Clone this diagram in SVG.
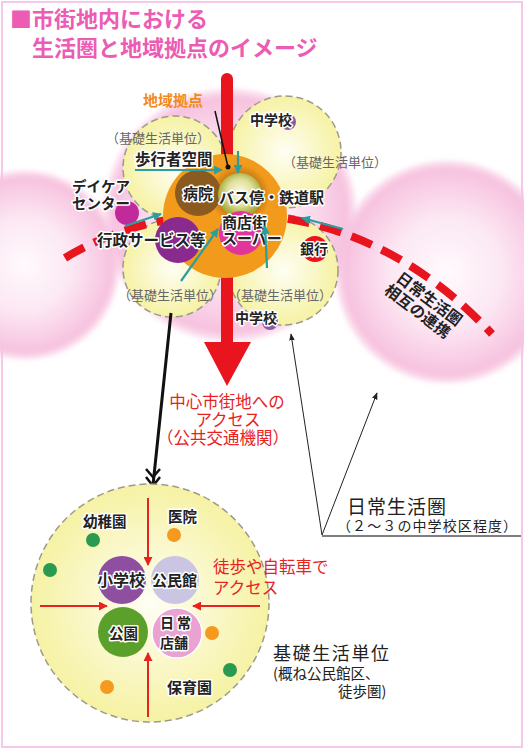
<svg xmlns="http://www.w3.org/2000/svg" width="524" height="749" viewBox="0 0 524 749">
<defs>
  <radialGradient id="pinkG" cx="50%" cy="50%" r="50%">
    <stop offset="0" stop-color="#fffafd"/>
    <stop offset="0.5" stop-color="#fce7f3"/>
    <stop offset="0.92" stop-color="#f7c2df"/>
    <stop offset="1" stop-color="#f7c2df" stop-opacity="0.3"/>
  </radialGradient>
  <radialGradient id="yelG" cx="50%" cy="50%" r="50%">
    <stop offset="0" stop-color="#fefef4"/>
    <stop offset="1" stop-color="#f6f2a4"/>
  </radialGradient>
  <radialGradient id="busG" cx="50%" cy="45%" r="50%">
    <stop offset="0" stop-color="#fbfbea"/>
    <stop offset="0.6" stop-color="#dfe09a"/>
    <stop offset="1" stop-color="#a9ab3c"/>
  </radialGradient>
  <radialGradient id="shadowG" cx="50%" cy="50%" r="50%">
    <stop offset="0.6" stop-color="#8a5210" stop-opacity="0.55"/>
    <stop offset="1" stop-color="#8a5210" stop-opacity="0"/>
  </radialGradient>
  <filter id="soft" x="-10%" y="-10%" width="120%" height="120%">
    <feGaussianBlur stdDeviation="2"/>
  </filter>
  <marker id="ta" viewBox="0 0 10 10" refX="9" refY="5" markerWidth="4" markerHeight="4" orient="auto" markerUnits="strokeWidth">
    <path d="M0,0 L10,5 L0,10 z" fill="#2a9ea0"/>
  </marker>
  <marker id="ra" viewBox="0 0 10 10" refX="9" refY="5" markerWidth="4.5" markerHeight="4.5" orient="auto" markerUnits="strokeWidth">
    <path d="M0,0 L10,5 L0,10 z" fill="#e8231f"/>
  </marker>
  <marker id="ka" viewBox="0 0 10 10" refX="9" refY="5" markerWidth="7" markerHeight="7" orient="auto" markerUnits="strokeWidth">
    <path d="M0,1 L10,5 L0,9 z" fill="#222"/>
  </marker>
</defs>
<style>
  text{font-family:"Noto Sans CJK JP","Noto Sans CJK SC",sans-serif}
  .title{fill:#ec5cb4;font-size:22px;font-weight:bold}
  .lab{font-weight:bold;fill:#222;stroke:#fff;stroke-width:3;stroke-linejoin:round;paint-order:stroke}
  .unit{fill:#666;font-size:13px}
  .yc{fill:url(#yelG);stroke:#9c9a8a;stroke-width:1.5;stroke-dasharray:7 4}
  .pk{fill:url(#pinkG);filter:url(#soft)}
  .teal{stroke:#2a9ea0;stroke-width:2.2;fill:none;marker-end:url(#ta)}
  .red{stroke:#e8231f;stroke-width:2;fill:none;marker-end:url(#ra)}
  .redt{fill:#e8231f;font-size:16.5px}
</style>

<rect x="2" y="2" width="520" height="745" fill="#fff" stroke="#f5c8ea" stroke-width="2"/>

<g id="title">
  <text class="title" x="10" y="27">■市街地内における</text>
  <text class="title" x="32" y="56">生活圏と地域拠点のイメージ</text>
</g>

<g id="daily-areas">
  <circle class="pk" cx="25" cy="265" r="95"/>
  <circle class="pk" cx="447" cy="272" r="112"/>
  <circle class="pk" cx="230" cy="215" r="127"/>
</g>

<g id="units">
  <circle class="yc" cx="175" cy="168" r="52"/>
  <circle class="yc" cx="285" cy="152" r="56"/>
  <circle class="yc" cx="172" cy="268" r="49"/>
  <circle class="yc" cx="283" cy="270" r="55"/>
</g>

<g id="connectors-back">
  <path d="M65,258 C150,205 340,170 492,334" fill="none" stroke="#e8141e" stroke-width="8" stroke-dasharray="22 11"/>
  <line x1="227" y1="79" x2="227" y2="346" stroke="#e8141e" stroke-width="12" stroke-linecap="round"/>
  <polygon points="204,342 251,342 227,386" fill="#e8141e"/>
</g>

<g id="hub">
  <circle cx="225" cy="216" r="62" fill="#f29a1c"/>
  <circle cx="240" cy="195" r="30" fill="url(#shadowG)"/>
</g>

<g id="hospital"><circle cx="198" cy="193" r="23" fill="#8b5a1e"/><text class="lab" x="183" y="199" font-size="15">病院</text></g>
<g id="bus"><circle cx="240" cy="195" r="22" fill="url(#busG)"/><text class="lab" x="219" y="203" font-size="15">バス停・鉄道駅</text></g>
<g id="shops"><circle cx="241" cy="233" r="22" fill="#e0369b"/><text class="lab" x="222" y="228" font-size="15">商店街</text><text class="lab" x="222" y="244" font-size="15">スーパー</text></g>
<g id="admin"><circle cx="178" cy="240" r="23" fill="#8b2a8e"/><text class="lab" x="97" y="246" font-size="15.5">行政サービス等</text></g>
<g id="daycare"><circle cx="127" cy="213" r="12" fill="#c02a9a"/><text class="lab" x="72" y="192" font-size="14.5">デイケア</text><text class="lab" x="72" y="209" font-size="14.5">センター</text></g>
<g id="bank"><circle cx="315" cy="249" r="13" fill="#e8141e"/><text class="lab" x="300" y="254" font-size="14">銀行</text></g>
<g id="jhs-top"><circle cx="288" cy="122" r="8" fill="#8e5aa8"/><text class="lab" x="250" y="125" font-size="14">中学校</text></g>
<g id="jhs-bottom"><circle cx="270" cy="322" r="8" fill="#8e5aa8"/><text class="lab" x="235" y="323" font-size="14">中学校</text></g>

<g id="unit-labels">
  <text class="unit" x="106" y="143">（基礎生活単位）</text>
  <text class="unit" x="283" y="167">（基礎生活単位）</text>
  <text class="unit" x="118" y="300">（基礎生活単位）</text>
  <text class="unit" x="228" y="300">（基礎生活単位）</text>
</g>

<g id="hub-label">
  <text x="143" y="106" font-size="15" fill="#f08a1e" font-weight="bold">地域拠点</text>
</g>
<g id="walk-label"><text class="lab" x="135" y="165" font-size="15.5">歩行者空間</text></g>

<g id="connectors">
  <line x1="215" y1="111" x2="228" y2="167" stroke="#111" stroke-width="1.5"/>
  <circle cx="228" cy="167" r="2.5" fill="#111"/>
  <line class="teal" x1="135" y1="170" x2="222" y2="170"/>
  <line class="teal" x1="238" y1="151" x2="238" y2="173"/>
  <line class="teal" x1="125" y1="226" x2="161" y2="214"/>
  <line class="teal" x1="181" y1="281" x2="218" y2="229"/>
  <line class="teal" x1="267" y1="268" x2="265" y2="226"/>
  <line class="teal" x1="343" y1="229" x2="302" y2="218"/>
  <line x1="171" y1="313" x2="153" y2="485" stroke="#111" stroke-width="3"/>
  <polyline points="146,469 153,477 160,469" fill="none" stroke="#111" stroke-width="2.5"/>
  <polyline points="146,477 153,486 160,477" fill="none" stroke="#111" stroke-width="2.5"/>
  <line x1="322" y1="535" x2="291" y2="334" stroke="#222" stroke-width="1" marker-end="url(#ka)"/>
  <line x1="322" y1="535" x2="377" y2="393" stroke="#222" stroke-width="1" marker-end="url(#ka)"/>
  <line x1="322" y1="536" x2="521" y2="536" stroke="#555" stroke-width="1.5"/>
</g>

<g id="link-label">
  <text transform="translate(395,280) rotate(37)" font-size="15.5" fill="#222" font-weight="bold">
    <tspan x="0" y="0">日常生活圏</tspan><tspan x="-2" y="17">相互の連携</tspan>
  </text>
</g>

<g id="access-label">
  <text class="redt" x="227" y="408" text-anchor="middle">中心市街地への</text>
  <text class="redt" x="228" y="426" text-anchor="middle">アクセス</text>
  <text class="redt" x="223" y="444" text-anchor="middle">（公共交通機関）</text>
</g>

<g id="daily-label">
  <text x="347" y="514" font-size="19" fill="#222" letter-spacing="1">日常生活圏</text>
  <text x="337" y="531" font-size="14" fill="#222" letter-spacing="1.1">（２～３の中学校区程度）</text>
</g>

<g id="unit-detail">
  <circle class="yc" cx="150" cy="603" r="119"/>
  <circle cx="93" cy="540" r="7" fill="#2a9a50"/>
  <circle cx="50" cy="570" r="7" fill="#2a9a50"/>
  <circle cx="230" cy="670" r="7" fill="#2a9a50"/>
  <circle cx="174" cy="535" r="7" fill="#f59a1e"/>
  <circle cx="212" cy="633" r="7" fill="#f59a1e"/>
  <circle cx="107" cy="687" r="7" fill="#f59a1e"/>
  <text class="lab" x="83" y="527" font-size="14.5">幼稚園</text>
  <text class="lab" x="168" y="522" font-size="14.5">医院</text>
  <text class="lab" x="167" y="693" font-size="15">保育園</text>
</g>
<g id="elem"><circle cx="122" cy="580" r="24" fill="#8e4fa0"/><text class="lab" x="97" y="586" font-size="16">小学校</text></g>
<g id="hall"><circle cx="175" cy="580" r="24" fill="#c9c5e2"/><text class="lab" x="152" y="586" font-size="15">公民館</text></g>
<g id="park"><circle cx="123" cy="632" r="25" fill="#5aa02a"/><text class="lab" x="109" y="639" font-size="14.5">公園</text></g>
<g id="store"><circle cx="177" cy="633" r="25" fill="#e9a2d2" stroke="#fff" stroke-width="1.5"/><text class="lab" x="160" y="628" font-size="14" letter-spacing="3">日常</text><text class="lab" x="160" y="648" font-size="14">店舗</text></g>

<g id="detail-arrows">
  <line class="red" x1="148" y1="498" x2="148" y2="565"/>
  <line class="red" x1="40" y1="606" x2="107" y2="606"/>
  <line class="red" x1="260" y1="606" x2="193" y2="606"/>
  <line class="red" x1="148" y1="717" x2="148" y2="653"/>
</g>

<g id="walk-access">
  <text x="213" y="573" font-size="16.5" fill="#e8231f">徒歩や自転車で</text>
  <text x="213" y="594" font-size="16.5" fill="#e8231f">アクセス</text>
</g>

<g id="unit-label">
  <text x="273" y="660" font-size="18" fill="#222" letter-spacing="1.6">基礎生活単位</text>
  <text x="273" y="679" font-size="14.5" fill="#222">(概ね公民館区、</text>
  <text x="338" y="697" font-size="14.5" fill="#222">徒歩圏)</text>
</g>
</svg>
